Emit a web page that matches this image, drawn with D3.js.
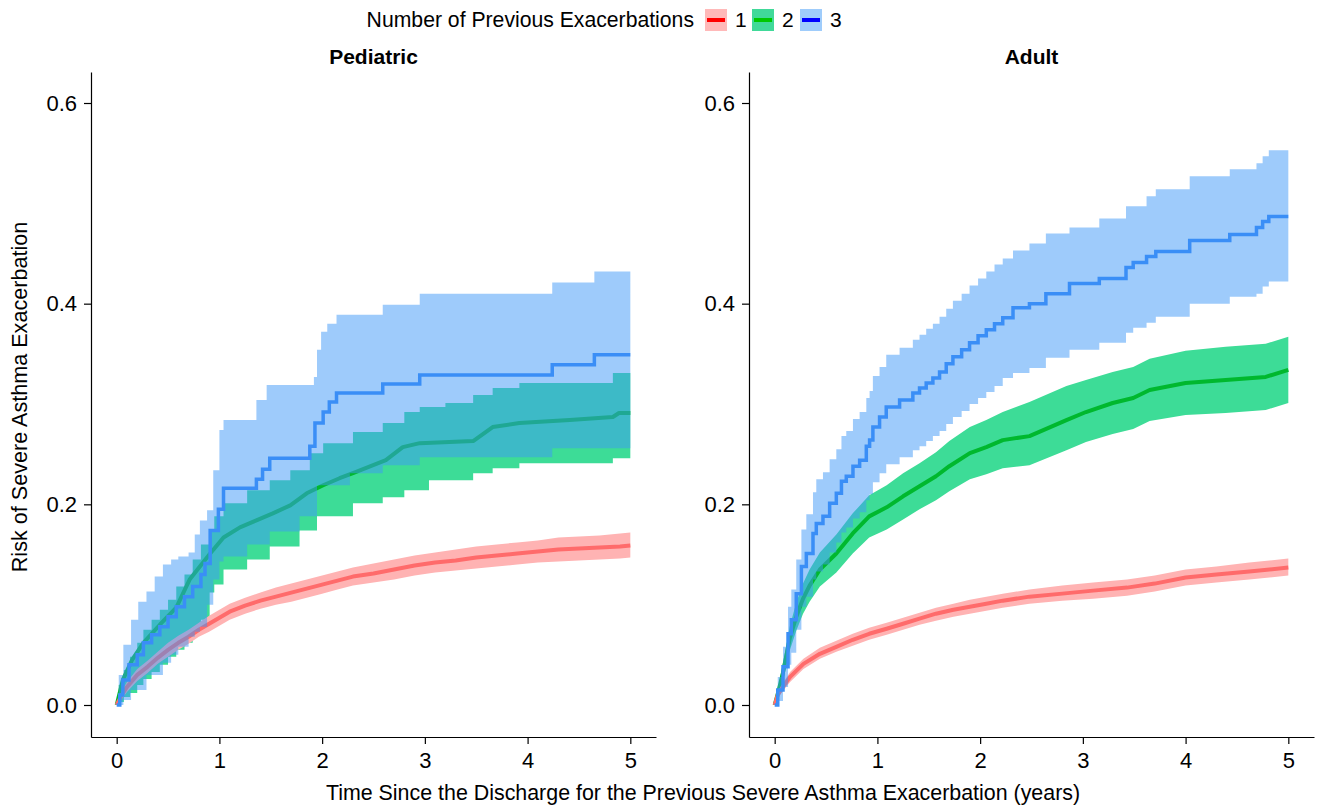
<!DOCTYPE html>
<html><head><meta charset="utf-8">
<script src="https://cdn.jsdelivr.net/npm/d3@7"></script>
<style>
body{margin:0;background:#fff;}
text{font-family:"Liberation Sans",Arial,Helvetica,sans-serif;fill:#000;}
</style>
</head><body>
<svg id="chart" width="1318" height="806"></svg>
<script>
// ---------------- data ----------------
const panelNames = ["Pediatric", "Adult"];
const groupLabels = ["1", "2", "3"];
const xTickValues = [0, 1, 2, 3, 4, 5];
const yTickValues = [0, 0.2, 0.4, 0.6];
const legendTitle = "Number of Previous Exacerbations";
const xTitle = "Time Since the Discharge for the Previous Severe Asthma Exacerbation (years)";
const yTitle = "Risk of Severe Asthma Exacerbation";

// Pediatric, 1 previous exacerbation: [time, estimate, lower, upper]
const pedRows1 = [
  [0,0,0,0],[0.05,0.010,0.006,0.014],[0.1,0.018,0.013,0.023],[0.2,0.030,0.024,0.036],
  [0.3,0.038,0.032,0.044],[0.4,0.047,0.041,0.053],[0.5,0.055,0.048,0.062],[0.6,0.062,0.055,0.069],
  [0.7,0.068,0.061,0.075],[0.8,0.075,0.068,0.082],[0.9,0.081,0.073,0.089],[1.0,0.087,0.079,0.095],
  [1.1,0.093,0.085,0.101],[1.25,0.099,0.091,0.107],[1.4,0.104,0.096,0.112],[1.55,0.108,0.100,0.117],
  [1.7,0.112,0.103,0.121],[1.85,0.116,0.107,0.125],[2.0,0.120,0.111,0.129],[2.15,0.124,0.115,0.133],
  [2.3,0.128,0.119,0.137],[2.5,0.131,0.122,0.141],[2.7,0.135,0.125,0.145],[2.9,0.139,0.129,0.149],
  [3.1,0.142,0.132,0.152],[3.3,0.144,0.134,0.155],[3.5,0.147,0.136,0.158],[3.7,0.149,0.138,0.160],
  [3.9,0.151,0.140,0.162],[4.1,0.153,0.142,0.164],[4.3,0.155,0.143,0.167],[4.5,0.156,0.144,0.168],
  [4.7,0.157,0.145,0.169],[4.9,0.158,0.146,0.171],[5.0,0.159,0.147,0.172]
];
// Pediatric, 2 previous exacerbations
const pedEst2 = [
  [0,0],[0.06,0.025],[0.15,0.045],[0.26,0.062],[0.42,0.08],[0.58,0.097],[0.71,0.125],[0.91,0.151],
  [1.04,0.167],[1.2,0.177],[1.36,0.184],[1.52,0.191],[1.69,0.199],[1.85,0.211],[2.01,0.219],
  [2.17,0.226],[2.3,0.231],[2.62,0.244],[2.785,0.257],[2.95,0.261],[3.47,0.263],[3.66,0.277],
  [3.92,0.281],[4.41,0.284],[4.83,0.287],[4.89,0.291],[5.0,0.291]
];
const pedBand2 = [ // [time, lower, upper]
  [0,0,0],[0.02,0.003,0.02],[0.07,0.008,0.035],[0.13,0.012,0.048],[0.2,0.02,0.062],[0.26,0.026,0.075],
  [0.34,0.033,0.085],[0.42,0.04,0.095],[0.5,0.048,0.105],[0.58,0.055,0.118],[0.66,0.062,0.13],
  [0.74,0.07,0.145],[0.82,0.085,0.16],[0.905,0.112,0.175],[0.95,0.12,0.188],[1.04,0.135,0.201],
  [1.27,0.145,0.214],[1.49,0.158,0.224],[1.69,0.158,0.234],[1.78,0.174,0.234],[1.88,0.174,0.251],
  [1.95,0.188,0.251],[2.01,0.188,0.261],[2.3,0.201,0.272],[2.59,0.207,0.281],[2.8,0.214,0.292],
  [2.95,0.214,0.297],[3.04,0.224,0.297],[3.2,0.224,0.301],[3.47,0.231,0.309],[3.66,0.236,0.316],
  [3.92,0.241,0.321],[4.83,0.246,0.331],[5.0,0.246,0.331]
];
// Pediatric, 3 previous exacerbations
const pedEst3 = [
  [0,0],[0.03,0.01],[0.06,0.025],[0.12,0.04],[0.2,0.05],[0.26,0.062],[0.34,0.07],[0.42,0.078],
  [0.5,0.088],[0.58,0.098],[0.66,0.108],[0.74,0.118],[0.82,0.13],[0.86,0.141],[0.91,0.174],
  [0.99,0.195],[1.04,0.216],[1.36,0.225],[1.42,0.235],[1.49,0.246],[1.88,0.258],
  [1.93,0.281],[2.01,0.292],[2.07,0.302],[2.14,0.311],[2.59,0.32],[2.95,0.329],[4.24,0.339],
  [4.65,0.349],[5.0,0.349]
];
const pedBand3 = [
  [0,0,0],[0.02,0.0,0.03],[0.065,0.005,0.06],[0.14,0.015,0.085],[0.21,0.015,0.103],[0.29,0.03,0.113],
  [0.37,0.03,0.128],[0.45,0.042,0.14],[0.53,0.05,0.145],[0.6,0.058,0.148],[0.7,0.068,0.152],
  [0.76,0.073,0.17],[0.81,0.078,0.184],[0.88,0.10,0.194],[0.94,0.125,0.234],[1.0,0.143,0.274],
  [1.04,0.148,0.284],[1.27,0.16,0.284],[1.36,0.16,0.304],[1.46,0.16,0.319],[1.49,0.173,0.319],
  [1.78,0.188,0.319],[1.92,0.188,0.327],[1.95,0.219,0.354],[1.99,0.219,0.372],[2.05,0.219,0.38],
  [2.14,0.219,0.389],[2.27,0.231,0.389],[2.59,0.239,0.399],[2.95,0.247,0.41],[4.24,0.256,0.421],
  [4.65,0.256,0.432],[5.0,0.256,0.432]
];
// Adult, 1 previous exacerbation: [time, estimate, lower, upper]
const adRows1 = [
  [0,0,0,0],[0.03,0.010,0.007,0.013],[0.08,0.018,0.014,0.022],[0.15,0.028,0.023,0.033],
  [0.28,0.041,0.036,0.046],[0.44,0.051,0.046,0.057],[0.6,0.058,0.053,0.064],[0.76,0.065,0.059,0.071],
  [0.92,0.071,0.065,0.077],[1.09,0.076,0.070,0.082],[1.25,0.081,0.075,0.087],[1.41,0.086,0.080,0.092],
  [1.57,0.091,0.084,0.097],[1.74,0.095,0.088,0.101],[1.9,0.098,0.091,0.105],[2.06,0.101,0.094,0.108],
  [2.22,0.104,0.097,0.111],[2.48,0.108,0.101,0.115],[2.8,0.111,0.104,0.119],[3.1,0.114,0.106,0.122],
  [3.43,0.117,0.109,0.125],[3.7,0.121,0.113,0.129],[4.0,0.127,0.119,0.135],[4.3,0.130,0.122,0.138],
  [4.62,0.133,0.125,0.142],[5.0,0.137,0.129,0.146]
];
// Adult, 2 previous exacerbations
const adRows2 = [
  [0,0,0,0],[0.04,0.015,0.009,0.021],[0.08,0.032,0.023,0.041],[0.146,0.066,0.054,0.078],
  [0.21,0.088,0.074,0.102],[0.276,0.106,0.091,0.121],[0.34,0.119,0.103,0.135],[0.44,0.135,0.118,0.152],
  [0.6,0.151,0.132,0.170],[0.76,0.171,0.151,0.191],[0.92,0.188,0.167,0.209],[1.09,0.197,0.175,0.219],
  [1.25,0.208,0.185,0.231],[1.41,0.218,0.195,0.241],[1.57,0.228,0.204,0.252],[1.70,0.238,0.213,0.263],
  [1.9,0.251,0.225,0.277],[2.06,0.257,0.230,0.284],[2.22,0.264,0.236,0.292],[2.48,0.268,0.239,0.302],
  [2.84,0.284,0.254,0.318],[3.03,0.292,0.262,0.324],[3.29,0.301,0.270,0.332],[3.49,0.306,0.275,0.337],
  [3.65,0.314,0.283,0.345],[4.0,0.321,0.289,0.353],[4.39,0.324,0.291,0.357],[4.78,0.327,0.294,0.360],
  [5.0,0.334,0.301,0.367]
];
// Adult, 3 previous exacerbations
const adRows3 = [
  [0,0,0,0],[0.03,0.015,0.004,0.028],[0.081,0.038,0.018,0.058],[0.13,0.071,0.040,0.098],
  [0.162,0.085,0.052,0.115],[0.21,0.111,0.075,0.145],[0.26,0.138,0.098,0.175],[0.308,0.151,0.108,0.190],
  [0.373,0.171,0.125,0.212],[0.405,0.181,0.133,0.225],[0.47,0.188,0.140,0.232],[0.535,0.201,0.152,0.245],
  [0.60,0.211,0.162,0.255],[0.65,0.223,0.172,0.268],[0.697,0.228,0.177,0.273],[0.762,0.238,0.186,0.285],
  [0.827,0.244,0.192,0.292],[0.892,0.258,0.204,0.306],[0.924,0.264,0.210,0.313],[0.956,0.277,0.222,0.328],
  [1.021,0.287,0.231,0.337],[1.086,0.297,0.240,0.349],[1.216,0.304,0.247,0.356],[1.345,0.311,0.254,0.364],
  [1.41,0.316,0.258,0.369],[1.475,0.321,0.263,0.375],[1.54,0.326,0.268,0.380],[1.605,0.332,0.273,0.387],
  [1.67,0.340,0.280,0.395],[1.735,0.347,0.287,0.403],[1.82,0.354,0.293,0.410],[1.897,0.361,0.300,0.418],
  [1.98,0.368,0.306,0.425],[2.06,0.374,0.312,0.432],[2.14,0.380,0.318,0.439],[2.22,0.386,0.326,0.445],
  [2.32,0.396,0.331,0.453],[2.48,0.400,0.336,0.460],[2.64,0.410,0.346,0.470],[2.87,0.420,0.354,0.476],
  [3.16,0.425,0.361,0.485],[3.42,0.436,0.371,0.497],[3.49,0.441,0.376,0.497],[3.62,0.447,0.381,0.507],
  [3.71,0.452,0.387,0.514],[4.04,0.463,0.400,0.527],[4.43,0.469,0.407,0.534],[4.69,0.476,0.410,0.540],
  [4.75,0.482,0.417,0.547],[4.81,0.487,0.422,0.553],[5.0,0.487,0.422,0.553]
];

// ---------------- styles ----------------
const bandFill = ["#ffb3b3", "#3ddc97", "#3d98f8"];
const bandOpacity = [1, 1, 0.5];
const lineColor = ["#ff6b6b", "#00b82e", "#3a8ef6"];
const lineWidth = [4, 4, 3.5];
const legendKeyFill = ["#ffb9b9", "#40d999", "#9fccfb"];
const legendLine = ["#ff0000", "#00c800", "#0000ff"];
const drawOrder = [1, 0, 2]; // green, then red, then translucent blue on top

const est = rows => rows.map(r => [r[0], r[1]]);
const band = rows => rows.map(r => [r[0], r[2], r[3]]);

const panelsData = [
  [
    {est: est(pedRows1), band: band(pedRows1), curveE: d3.curveLinear, curveB: d3.curveLinear},
    {est: pedEst2, band: pedBand2, curveE: d3.curveLinear, curveB: d3.curveStepAfter},
    {est: pedEst3, band: pedBand3, curveE: d3.curveStepAfter, curveB: d3.curveStepAfter}
  ],
  [
    {est: est(adRows1), band: band(adRows1), curveE: d3.curveLinear, curveB: d3.curveLinear},
    {est: est(adRows2), band: band(adRows2), curveE: d3.curveLinear, curveB: d3.curveLinear},
    {est: est(adRows3), band: band(adRows3), curveE: d3.curveStepAfter, curveB: d3.curveStepAfter}
  ]
];

// ---------------- layout ----------------
const svg = d3.select("#chart");
svg.append("rect").attr("width", 1318).attr("height", 806).attr("fill", "#fff");

const panelX = [[91, 656], [749, 1314]];
const plotTop = 72, plotBottom = 737;
const FONT = 21;
const TICKFONT = 22;

const y = d3.scaleLinear().domain([-0.0319, 0.6309]).range([plotBottom, plotTop]);

panelsData.forEach((series, pi) => {
  const x = d3.scaleLinear().domain([-0.25, 5.25]).range(panelX[pi]);
  const g = svg.append("g");

  drawOrder.forEach(gi => {
    const s = series[gi];
    const area = d3.area().curve(s.curveB)
      .x(d => x(d[0])).y0(d => y(d[1])).y1(d => y(d[2]));
    const line = d3.line().curve(s.curveE)
      .x(d => x(d[0])).y(d => y(d[1]));
    g.append("path").attr("d", area(s.band))
      .attr("fill", bandFill[gi]).attr("fill-opacity", bandOpacity[gi]);
    g.append("path").attr("d", line(s.est))
      .attr("fill", "none").attr("stroke", lineColor[gi])
      .attr("stroke-width", lineWidth[gi])
      .attr("stroke-linejoin", gi === 2 ? "miter" : "round");
  });

  // axes
  const xAxis = d3.axisBottom(x).tickValues(xTickValues).tickFormat(d3.format("d"))
    .tickSize(7).tickSizeOuter(0).tickPadding(8);
  const yAxis = d3.axisLeft(y).tickValues(yTickValues).tickFormat(d3.format(".1f"))
    .tickSize(7).tickSizeOuter(0).tickPadding(7);
  const gx = svg.append("g").attr("transform", `translate(0,${plotBottom})`).call(xAxis);
  const gy = svg.append("g").attr("transform", `translate(${panelX[pi][0]},0)`).call(yAxis);
  [gx, gy].forEach(a => {
    a.selectAll("path.domain").attr("stroke", "#000").attr("stroke-width", 1.2);
    a.selectAll(".tick line").attr("stroke", "#000").attr("stroke-width", 1.2);
    a.selectAll(".tick text").attr("font-size", TICKFONT).attr("fill", "#000")
      .attr("font-family", '"Liberation Sans",Arial,sans-serif');
  });

  // panel title
  svg.append("text").attr("x", (panelX[pi][0] + panelX[pi][1]) / 2).attr("y", 64)
    .attr("text-anchor", "middle").attr("font-size", FONT).attr("font-weight", "bold")
    .text(panelNames[pi]);
});

// axis titles
svg.append("text").attr("x", 703).attr("y", 800).attr("text-anchor", "middle")
  .attr("font-size", 21.4).text(xTitle);
svg.append("text").attr("transform", "translate(27,397) rotate(-90)")
  .attr("text-anchor", "middle").attr("font-size", 21.6).text(yTitle);

// legend
const leg = svg.append("g");
leg.append("text").attr("x", 694).attr("y", 27).attr("text-anchor", "end")
  .attr("font-size", 21.2).text(legendTitle);
const keyX = [705, 752, 800];
groupLabels.forEach((lab, i) => {
  leg.append("rect").attr("x", keyX[i]).attr("y", 9).attr("width", 22).attr("height", 22)
    .attr("fill", legendKeyFill[i]);
  leg.append("line").attr("x1", keyX[i] + 2).attr("x2", keyX[i] + 20)
    .attr("y1", 20).attr("y2", 20).attr("stroke", legendLine[i]).attr("stroke-width", 4);
  leg.append("text").attr("x", keyX[i] + 30).attr("y", 27).attr("font-size", FONT).text(lab);
});
</script>
</body></html>
